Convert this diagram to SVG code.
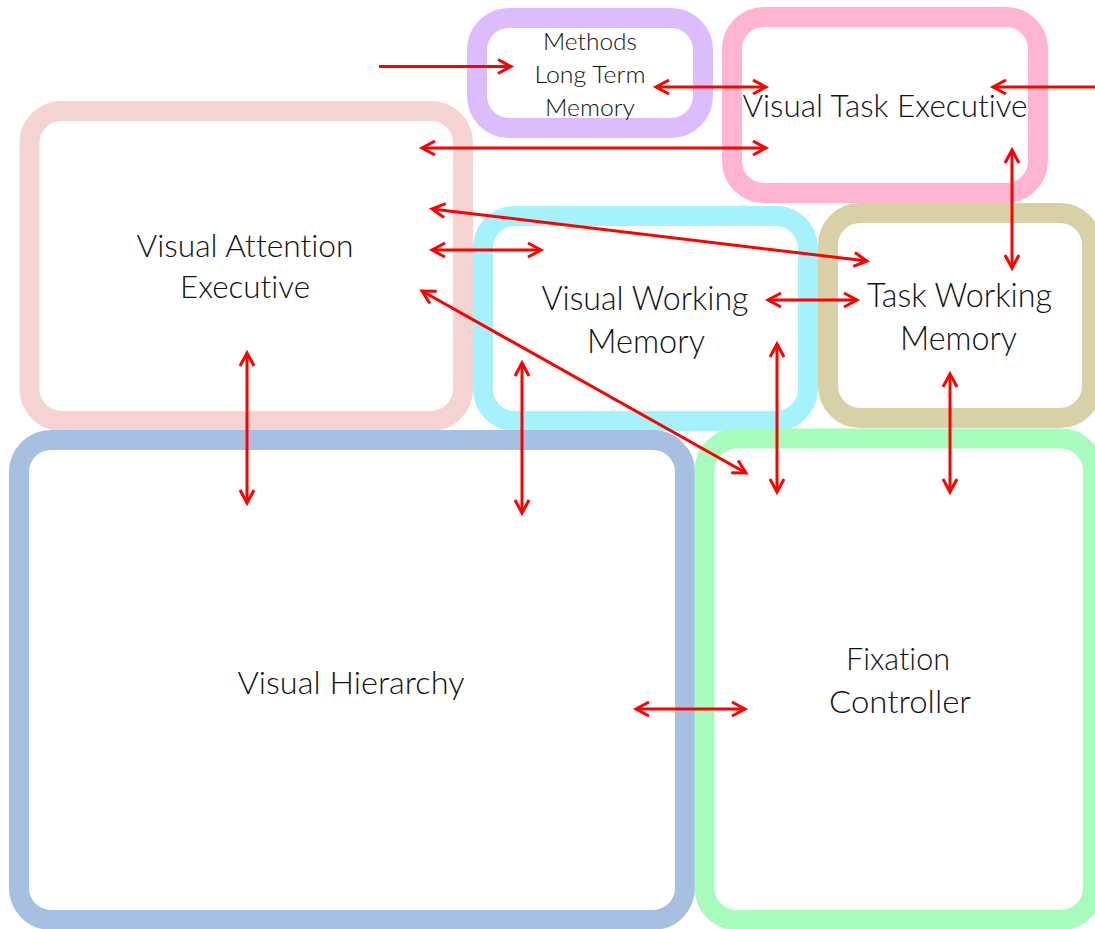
<svg xmlns="http://www.w3.org/2000/svg" width="1095" height="929" viewBox="0 0 1095 929">
<style>
.box{fill:none;stroke-width:20}
.lbl{font-family:Lato,"Open Sans","Liberation Sans",sans-serif;font-weight:300;fill:#111111;text-anchor:middle;font-variant-ligatures:none}
.c line{stroke:#ff0000;stroke-width:3}
</style>
<defs>
<marker id="ah" markerUnits="userSpaceOnUse" viewBox="-16 -10 20 20" refX="0" refY="0" markerWidth="20" markerHeight="20" orient="auto-start-reverse" overflow="visible">
<path d="M-13,-7 L0,0 L-13,7" fill="none" stroke="#ff0000" stroke-width="3"/>
</marker>
</defs>
<rect width="1095" height="929" fill="#ffffff"/>
<g id="visual-attention-executive">
<rect class="box" x="29.5" y="111" width="433.5" height="310" rx="32" stroke="#f5d3d2"/>
<text class="lbl" font-size="32" x="245" y="257" textLength="217" lengthAdjust="spacingAndGlyphs">Visual Attention</text>
<text class="lbl" font-size="32" x="245" y="298" textLength="130" lengthAdjust="spacingAndGlyphs">Executive</text>
</g>
<g id="methods-ltm">
<rect class="box" x="477" y="18" width="226" height="110" rx="32" stroke="#dcbcfc"/>
<text class="lbl" font-size="24" x="590" y="50" textLength="94" lengthAdjust="spacingAndGlyphs">Methods</text>
<text class="lbl" font-size="24" x="590" y="83" textLength="111" lengthAdjust="spacingAndGlyphs">Long Term</text>
<text class="lbl" font-size="24" x="590" y="116" textLength="90" lengthAdjust="spacingAndGlyphs">Memory</text>
</g>
<g id="visual-task-executive">
<rect class="box" x="732" y="17" width="306" height="176" rx="32" stroke="#ffb5d2"/>
<text class="lbl" font-size="31" x="885" y="117" textLength="285" lengthAdjust="spacingAndGlyphs">Visual Task Executive</text>
</g>
<g id="visual-working-memory">
<rect class="box" x="483" y="216" width="325" height="205" rx="32" stroke="#a5f1fc"/>
<text class="lbl" font-size="33" x="645" y="310" textLength="207" lengthAdjust="spacingAndGlyphs">Visual Working</text>
<text class="lbl" font-size="33" x="646" y="353" textLength="118" lengthAdjust="spacingAndGlyphs">Memory</text>
</g>
<g id="task-working-memory">
<rect class="box" x="828" y="213" width="264" height="205" rx="32" stroke="#d8d0a7"/>
<text class="lbl" font-size="33" x="959.5" y="307" textLength="185" lengthAdjust="spacingAndGlyphs">Task Working</text>
<text class="lbl" font-size="33" x="958.5" y="350" textLength="117" lengthAdjust="spacingAndGlyphs">Memory</text>
</g>
<g id="visual-hierarchy">
<rect class="box" x="19" y="440" width="666" height="480" rx="32" stroke="#a7bfe0"/>
<text class="lbl" font-size="32" x="351" y="694" textLength="227" lengthAdjust="spacingAndGlyphs">Visual Hierarchy</text>
</g>
<g id="fixation-controller">
<rect class="box" x="704.5" y="438.5" width="388.5" height="481.5" rx="32" stroke="#a6fbbd"/>
<text class="lbl" font-size="32" x="898" y="670" textLength="104" lengthAdjust="spacingAndGlyphs">Fixation</text>
<text class="lbl" font-size="32" x="900" y="713" textLength="142" lengthAdjust="spacingAndGlyphs">Controller</text>
</g>
<g id="connectors" class="c">
<line x1="379" y1="66.5" x2="511" y2="66.5" marker-end="url(#ah)"/>
<line x1="656" y1="87" x2="766" y2="87" marker-start="url(#ah)" marker-end="url(#ah)"/>
<line x1="1095" y1="87" x2="993" y2="87" marker-end="url(#ah)"/>
<line x1="422" y1="148" x2="766" y2="148" marker-start="url(#ah)" marker-end="url(#ah)"/>
<line x1="432" y1="209" x2="867" y2="261" marker-start="url(#ah)" marker-end="url(#ah)"/>
<line x1="432" y1="250" x2="541" y2="250" marker-start="url(#ah)" marker-end="url(#ah)"/>
<line x1="422" y1="291" x2="746" y2="473" marker-start="url(#ah)" marker-end="url(#ah)"/>
<line x1="768" y1="300" x2="857" y2="300" marker-start="url(#ah)" marker-end="url(#ah)"/>
<line x1="1012" y1="150" x2="1012" y2="268" marker-start="url(#ah)" marker-end="url(#ah)"/>
<line x1="247" y1="353" x2="247" y2="503" marker-start="url(#ah)" marker-end="url(#ah)"/>
<line x1="522" y1="363" x2="522" y2="513" marker-start="url(#ah)" marker-end="url(#ah)"/>
<line x1="777" y1="344" x2="777" y2="492" marker-start="url(#ah)" marker-end="url(#ah)"/>
<line x1="950" y1="374" x2="950" y2="492" marker-start="url(#ah)" marker-end="url(#ah)"/>
<line x1="636" y1="709" x2="745" y2="709" marker-start="url(#ah)" marker-end="url(#ah)"/>
</g>
</svg>
